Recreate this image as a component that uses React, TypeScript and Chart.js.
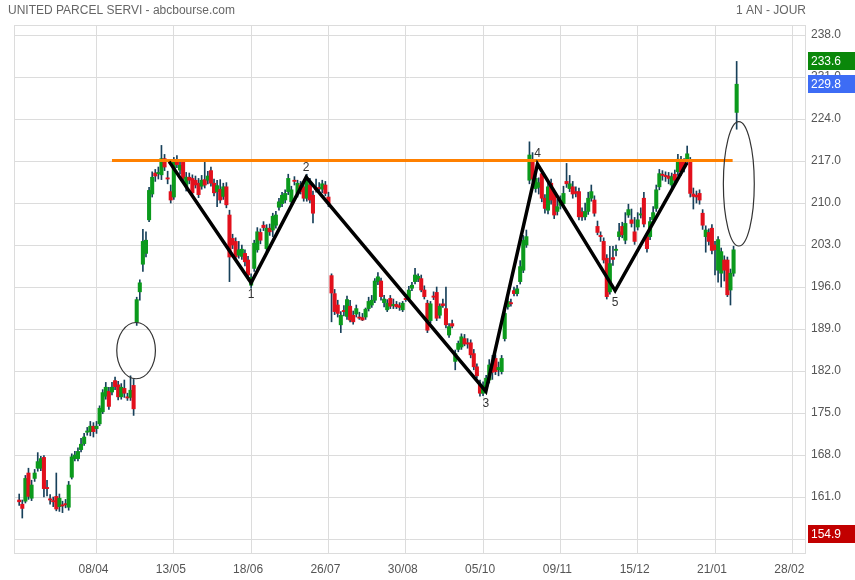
import React, { useEffect, useRef } from "react";
import { Chart, registerables } from "chart.js";

Chart.register(...registerables);

// ---- Daily candles (trading-day index 0..232) ----
const opens = [
  160.5, 159.8, 160.3, 165.0, 160.8, 164.1, 165.8, 165.8, 167.6, 162.6,
  160.6, 160.3, 161.1, 159.4, 159.6, 159.8, 159.3, 164.3, 167.4, 167.4,
  168.9, 169.9, 171.8, 171.9, 172.8, 172.4, 173.2, 175.2, 177.8, 178.6,
  178.5, 180.4, 179.7, 177.7, 179.1, 177.7, 177.6, 179.6, 190.1, 195.2,
  199.8, 201.6, 207.2, 211.5, 215.0, 214.9, 214.7, 217.4, 214.2, 211.9,
  211.0, 216.9, 215.5, 216.9, 212.7, 214.3, 214.1, 213.8, 213.3, 212.8,
  213.9, 213.8, 215.4, 213.3, 211.9, 212.3, 211.1, 212.7, 208.0, 204.1,
  203.6, 201.3, 201.1, 201.6, 200.5, 196.3, 199.1, 202.2, 205.1, 206.3,
  202.4, 205.8, 205.5, 206.3, 209.3, 209.9, 210.5, 211.9, 210.2, 213.8,
  211.6, 213.0, 212.7, 210.8, 213.0, 211.3, 212.4, 212.6, 212.3, 213.0,
  211.0, 197.9, 194.9, 193.0, 189.7, 192.1, 191.1, 192.8, 191.3, 191.5,
  191.0, 190.9, 191.0, 192.4, 193.0, 193.8, 196.9, 197.0, 193.4, 192.2,
  194.1, 192.9, 193.1, 192.9, 192.2, 194.0, 194.1, 195.8, 196.9, 197.3,
  197.4, 195.5, 193.3, 190.4, 194.5, 195.1, 191.3, 193.2, 192.4, 188.0,
  189.9, 183.6, 185.6, 186.0, 187.4, 186.6, 186.7, 184.9, 182.7, 179.7,
  178.3, 179.4, 180.5, 183.2, 184.1, 182.2, 181.9, 187.4, 192.7, 193.4,
  195.4, 194.9, 196.9, 198.8, 203.0, 213.8, 216.8, 212.4, 212.6, 214.9,
  210.8, 208.8, 213.3, 211.6, 208.6, 209.6, 209.9, 213.6, 212.4, 212.7,
  211.9, 211.9, 208.5, 207.7, 208.6, 210.8, 210.5, 206.1, 204.5, 203.6,
  200.8, 195.2, 200.9, 202.1, 204.4, 206.1, 203.8, 208.0, 207.2, 205.2,
  206.0, 208.0, 210.8, 204.4, 204.4, 207.2, 209.1, 212.7, 214.7, 214.5,
  214.5, 213.0, 214.8, 215.2, 217.0, 216.8, 216.9, 216.9, 211.5, 211.3,
  211.6, 208.3, 204.4, 205.1, 205.8, 203.0, 198.8, 198.3, 200.5, 200.5,
  195.5, 198.3, 225.1,
];
const highs = [
  161.5, 160.5, 164.6, 165.8, 163.8, 165.6, 168.4, 167.8, 167.9, 163.8,
  161.4, 161.0, 165.0, 161.5, 160.3, 160.6, 163.6, 168.2, 168.6, 169.2,
  170.8, 171.6, 172.6, 173.6, 173.4, 173.6, 176.2, 178.9, 180.1, 179.3,
  180.1, 181.0, 180.3, 179.9, 180.5, 178.3, 181.2, 180.6, 194.3, 197.2,
  205.6, 205.2, 212.6, 215.2, 215.6, 216.0, 219.6, 218.1, 215.3, 213.0,
  217.6, 217.9, 216.9, 217.3, 215.1, 215.0, 214.7, 214.5, 214.1, 214.6,
  216.9, 215.3, 216.0, 214.0, 213.8, 213.9, 213.3, 213.4, 208.8, 204.8,
  204.2, 203.6, 203.0, 202.2, 201.1, 198.2, 203.8, 205.9, 205.7, 206.9,
  206.4, 206.5, 208.3, 208.6, 210.8, 211.8, 212.2, 214.8, 212.8, 214.4,
  213.8, 213.6, 213.4, 214.8, 214.1, 212.0, 214.0, 213.4, 213.8, 213.6,
  211.8, 198.2, 195.6, 193.8, 191.9, 192.9, 194.5, 193.8, 192.0, 193.0,
  191.8, 191.6, 192.5, 194.3, 194.6, 197.4, 198.4, 197.5, 194.6, 193.9,
  194.6, 194.0, 193.6, 193.4, 193.6, 194.8, 196.1, 196.8, 199.1, 198.2,
  198.0, 196.2, 193.8, 193.6, 195.2, 196.0, 193.2, 194.0, 196.0, 189.9,
  190.5, 185.5, 187.0, 188.2, 188.1, 187.4, 187.2, 185.6, 183.2, 180.5,
  180.2, 181.3, 183.9, 184.6, 184.7, 183.5, 184.6, 192.6, 194.9, 194.0,
  196.0, 196.3, 200.4, 204.6, 205.5, 220.2, 218.4, 214.6, 214.2, 215.5,
  211.4, 213.6, 214.0, 212.3, 210.6, 211.2, 212.8, 216.6, 214.6, 213.6,
  212.7, 212.5, 209.2, 210.0, 211.8, 213.0, 211.2, 207.0, 205.2, 204.2,
  201.4, 202.8, 202.8, 203.0, 206.6, 206.8, 208.4, 209.8, 209.0, 207.6,
  208.4, 209.2, 211.8, 205.0, 207.6, 209.4, 213.0, 215.6, 215.4, 215.2,
  215.1, 215.0, 215.5, 218.1, 217.8, 217.4, 219.5, 217.6, 212.5, 212.0,
  212.2, 208.9, 206.2, 205.7, 206.4, 203.6, 204.4, 202.5, 201.2, 201.0,
  199.0, 202.8, 233.6,
];
const lows = [
  159.6, 157.5, 160.0, 160.6, 160.4, 163.6, 165.3, 165.4, 161.0, 161.2,
  159.8, 159.4, 158.7, 158.6, 158.4, 159.2, 158.8, 164.0, 167.0, 167.0,
  168.5, 169.6, 171.3, 171.2, 171.0, 171.6, 172.9, 174.9, 177.3, 175.6,
  178.0, 178.9, 177.2, 177.3, 177.6, 177.1, 177.1, 174.6, 189.6, 193.8,
  198.6, 201.0, 206.9, 211.0, 213.6, 214.0, 213.9, 215.4, 213.2, 210.0,
  210.6, 215.9, 214.8, 213.5, 212.0, 213.2, 211.2, 212.5, 210.9, 212.3,
  212.5, 213.2, 212.8, 211.2, 209.4, 210.0, 210.6, 209.2, 196.9, 202.4,
  200.5, 200.8, 200.6, 199.5, 197.2, 195.8, 198.6, 201.8, 203.2, 205.4,
  201.9, 204.6, 204.4, 205.8, 208.8, 209.4, 210.0, 211.4, 209.8, 213.0,
  211.0, 211.5, 210.3, 210.3, 210.0, 206.7, 211.8, 212.0, 211.7, 211.2,
  209.4, 190.2, 191.4, 191.0, 188.4, 191.2, 190.6, 190.2, 189.8, 191.0,
  190.6, 190.4, 190.6, 192.0, 192.6, 193.4, 196.4, 193.8, 192.7, 191.9,
  192.4, 192.4, 192.4, 192.1, 191.9, 193.6, 193.7, 195.4, 196.5, 196.9,
  195.2, 194.0, 188.4, 190.0, 193.9, 190.4, 190.8, 192.6, 189.2, 187.6,
  189.2, 182.2, 185.2, 185.6, 186.2, 185.8, 184.2, 182.2, 180.8, 177.8,
  177.9, 179.0, 180.0, 180.6, 181.4, 181.2, 181.5, 187.0, 192.3, 192.8,
  194.5, 194.5, 196.5, 198.4, 202.6, 213.2, 213.5, 211.8, 211.5, 210.2,
  208.3, 208.2, 209.8, 207.4, 208.0, 209.0, 209.4, 212.6, 211.9, 210.8,
  211.0, 207.2, 207.1, 207.2, 208.1, 210.3, 207.8, 204.7, 203.6, 200.0,
  194.0, 194.8, 199.6, 201.2, 203.8, 204.2, 203.2, 207.6, 206.0, 203.1,
  205.5, 207.5, 206.0, 201.8, 203.9, 206.7, 208.6, 212.2, 213.8, 213.6,
  213.2, 212.4, 213.2, 214.6, 214.6, 215.2, 216.4, 211.0, 209.0, 210.0,
  209.8, 205.6, 201.8, 203.0, 201.5, 198.0, 196.8, 196.0, 197.0, 194.4,
  193.0, 197.8, 222.3,
];
const closes = [
  160.2, 159.1, 164.1, 161.1, 163.0, 165.0, 166.9, 167.4, 162.4, 162.4,
  160.5, 160.2, 159.0, 160.8, 159.5, 159.7, 163.0, 167.7, 168.0, 168.6,
  169.8, 171.0, 171.9, 172.8, 171.9, 172.8, 175.8, 178.4, 179.3, 176.1,
  179.3, 179.4, 177.7, 179.3, 178.3, 177.5, 178.8, 175.7, 193.9, 196.7,
  203.6, 203.8, 212.1, 214.3, 214.5, 215.0, 217.4, 216.0, 214.0, 210.5,
  216.9, 216.4, 216.3, 214.1, 214.3, 213.8, 211.7, 213.0, 211.4, 213.8,
  213.0, 214.5, 213.3, 211.7, 212.9, 210.5, 212.7, 209.7, 201.0, 203.0,
  201.0, 202.2, 202.3, 200.2, 198.0, 197.6, 203.3, 205.2, 203.8, 205.9,
  205.8, 205.2, 207.8, 208.0, 210.2, 211.3, 211.6, 214.1, 212.2, 213.6,
  213.3, 211.9, 210.8, 214.1, 210.5, 208.3, 212.2, 212.4, 213.2, 211.6,
  209.9, 195.0, 191.9, 191.6, 191.3, 191.9, 193.9, 190.5, 190.2, 192.4,
  190.8, 190.5, 192.3, 193.6, 193.8, 197.0, 197.7, 194.4, 194.0, 193.3,
  192.8, 193.1, 192.7, 192.6, 193.3, 193.9, 195.5, 196.3, 198.0, 197.8,
  195.5, 194.4, 188.8, 193.2, 194.3, 190.8, 192.8, 192.9, 189.7, 189.4,
  189.5, 184.9, 186.6, 187.7, 186.5, 186.5, 184.7, 182.7, 181.2, 178.3,
  179.6, 180.8, 183.0, 181.8, 181.9, 182.6, 184.1, 191.6, 193.6, 193.2,
  194.9, 195.7, 199.4, 203.8, 204.4, 218.0, 214.0, 214.1, 213.4, 210.8,
  209.1, 212.7, 210.5, 208.0, 209.4, 210.3, 211.6, 213.2, 213.2, 211.5,
  211.6, 207.7, 207.7, 208.6, 210.8, 211.9, 208.3, 205.1, 204.4, 200.5,
  194.4, 199.9, 200.6, 202.2, 205.2, 204.7, 206.6, 208.9, 206.6, 203.6,
  207.2, 208.1, 206.5, 202.4, 206.9, 208.4, 212.2, 214.9, 214.6, 214.4,
  214.1, 214.4, 213.8, 217.3, 215.2, 216.0, 218.2, 211.6, 211.1, 211.0,
  210.5, 206.3, 205.5, 203.6, 202.1, 202.2, 203.9, 201.9, 198.8, 194.7,
  198.3, 202.2, 229.8,
];

// ---- Axis ticks ----
const tickIdx = [25, 50, 75, 100, 125, 150, 175, 200, 225, 250];
const tickLabels = ["08/04", "13/05", "18/06", "26/07", "30/08", "05/10", "09/11", "15/12", "21/01", "28/02"];
const yTicks = [154, 161, 168, 175, 182, 189, 196, 203, 210, 217, 224, 231, 238];

// ---- Annotations ----
const zigX = [48.5, 75, 92.8, 150.9, 167.6, 192.7, 215.9];
const zigY = [216.9, 196.7, 214.3, 178.6, 216.5, 195.4, 216.7];
const zigLabels = ["", "1", "2", "3", "4", "5", ""];

const resistanceLevel = 217.1;
const resistanceX = [30, 230.7];

const ellipseCx = [37.8, 232.7];
const ellipseCy = [185.4, 213.2];
const ellipseRx = [6.25, 5.0];
const ellipseRy = [4.69, 10.36];

const tagValues = [233.6, 229.8, 154.9];
const tagColors = ["#0a870a", "#3d6cf5", "#c20000"];

const titleText = "UNITED PARCEL SERVI - abcbourse.com";
const periodText = "1 AN - JOUR";

const FONT = "Arial, 'Liberation Sans', sans-serif";

const overlayPlugin = {
  id: "overlay",
  beforeDatasetsDraw(chart: any) {
    const { ctx, chartArea } = chart;
    ctx.save();
    ctx.strokeStyle = "#dcdcdc";
    ctx.lineWidth = 1;
    ctx.strokeRect(
      Math.round(chartArea.left) + 0.5,
      Math.round(chartArea.top) + 0.5,
      Math.round(chartArea.right - chartArea.left),
      Math.round(chartArea.bottom - chartArea.top)
    );
    ctx.restore();
  },
  afterDatasetsDraw(chart: any) {
    const { ctx } = chart;
    const xs = chart.scales.x;
    const ys = chart.scales.y;
    ctx.save();
    ctx.strokeStyle = "#333";
    ctx.lineWidth = 1.2;
    for (let i = 0; i < ellipseCx.length; i++) {
      const cx = xs.getPixelForValue(ellipseCx[i]);
      const cy = ys.getPixelForValue(ellipseCy[i]);
      const rx = Math.abs(xs.getPixelForValue(ellipseCx[i] + ellipseRx[i]) - cx);
      const ry = Math.abs(ys.getPixelForValue(ellipseCy[i] + ellipseRy[i]) - cy);
      ctx.beginPath();
      ctx.ellipse(cx, cy, rx, ry, 0, 0, Math.PI * 2);
      ctx.stroke();
    }
    ctx.fillStyle = "#333";
    ctx.font = "12px " + FONT;
    ctx.textAlign = "center";
    ctx.textBaseline = "middle";
    for (let i = 1; i < zigX.length - 1; i++) {
      if (!zigLabels[i]) continue;
      const px = xs.getPixelForValue(zigX[i]);
      const py = ys.getPixelForValue(zigY[i]);
      const isLow = zigY[i] < zigY[i - 1] && zigY[i] < zigY[i + 1];
      ctx.fillText(zigLabels[i], px, py + (isLow ? 12 : -10));
    }
    ctx.restore();
  },
  afterDraw(chart: any) {
    const { ctx, chartArea, width } = chart;
    const ys = chart.scales.y;
    ctx.save();
    ctx.font = "12px " + FONT;
    ctx.textBaseline = "middle";
    for (let i = 0; i < tagValues.length; i++) {
      const y = Math.round(ys.getPixelForValue(tagValues[i]));
      const x0 = chartArea.right + 3;
      ctx.fillStyle = tagColors[i];
      ctx.fillRect(x0, y - 9, width - x0, 18);
      ctx.fillStyle = "#ffffff";
      ctx.textAlign = "left";
      ctx.fillText(tagValues[i].toFixed(1), x0 + 3, y + 0.5);
    }
    ctx.fillStyle = "#666";
    ctx.textAlign = "left";
    ctx.fillText(titleText, 8, 11);
    ctx.textAlign = "right";
    ctx.fillText(periodText, chartArea.right + 1, 11);
    ctx.restore();
  },
};

export default function App() {
  const ref = useRef<HTMLCanvasElement | null>(null);
  useEffect(() => {
    if (!ref.current) return;
    const bullish = closes.map((c, i) => c >= opens[i]);
    const chart = new Chart(ref.current, {
      type: "line",
      data: {
        datasets: [
          {
            type: "line",
            data: zigX.map((x, i) => ({ x, y: zigY[i] })),
            borderColor: "#000000",
            borderWidth: 3.5,
            pointRadius: 0,
            tension: 0,
            order: 1,
          } as any,
          {
            type: "line",
            data: resistanceX.map((x) => ({ x, y: resistanceLevel })),
            borderColor: "#ff8000",
            borderWidth: 3,
            pointRadius: 0,
            order: 2,
          } as any,
          {
            type: "bar",
            data: opens.map((o, i) => ({ x: i, y: [Math.min(o, closes[i]), Math.max(o, closes[i])] })),
            backgroundColor: bullish.map((b) => (b ? "#0b9a1c" : "#e2101c")),
            borderWidth: 0,
            borderSkipped: false,
            barThickness: 3.4,
            minBarLength: 1.2,
            grouped: false,
            order: 3,
          } as any,
          {
            type: "bar",
            data: highs.map((h, i) => ({ x: i, y: [lows[i], h] })),
            backgroundColor: "#17405a",
            borderWidth: 0,
            barThickness: 1,
            grouped: false,
            order: 4,
          } as any,
        ],
      },
      options: {
        responsive: false,
        animation: false,
        events: [],
        layout: { padding: { left: 14, top: 25, right: 0, bottom: 0 } },
        plugins: {
          legend: { display: false },
          tooltip: { enabled: false },
          title: { display: false },
        },
        scales: {
          x: {
            type: "linear",
            min: -1.68,
            max: 254.1,
            offset: false,
            grid: { color: "#dcdcdc", drawTicks: false, offset: false },
            border: { display: false },
            afterBuildTicks: (s: any) => {
              s.ticks = tickIdx.map((v) => ({ value: v }));
            },
            afterFit: (s: any) => {
              s.height = 27;
            },
            ticks: {
              autoSkip: false,
              maxRotation: 0,
              padding: 9,
              labelOffset: -3,
              color: "#555",
              font: { family: FONT, size: 12 },
              callback: (v: any) => {
                const k = tickIdx.indexOf(Number(v));
                return k >= 0 ? tickLabels[k] : "";
              },
            },
          },
          y: {
            type: "linear",
            position: "right",
            min: 151.67,
            max: 239.67,
            grid: { color: "#dcdcdc", drawTicks: false },
            border: { display: false },
            afterBuildTicks: (s: any) => {
              s.ticks = yTicks.map((v) => ({ value: v }));
            },
            afterFit: (s: any) => {
              s.width = 50;
            },
            ticks: {
              padding: 6,
              color: "#555",
              font: { family: FONT, size: 12 },
              callback: (v: any) => Number(v).toFixed(1),
            },
          },
        },
      } as any,
      plugins: [overlayPlugin],
    });
    return () => chart.destroy();
  }, []);

  return (
    <div style={{ position: "absolute", left: 0, top: 0, width: 855, height: 580, background: "#fff" }}>
      <canvas ref={ref} width={855} height={580} style={{ display: "block" }} />
    </div>
  );
}
